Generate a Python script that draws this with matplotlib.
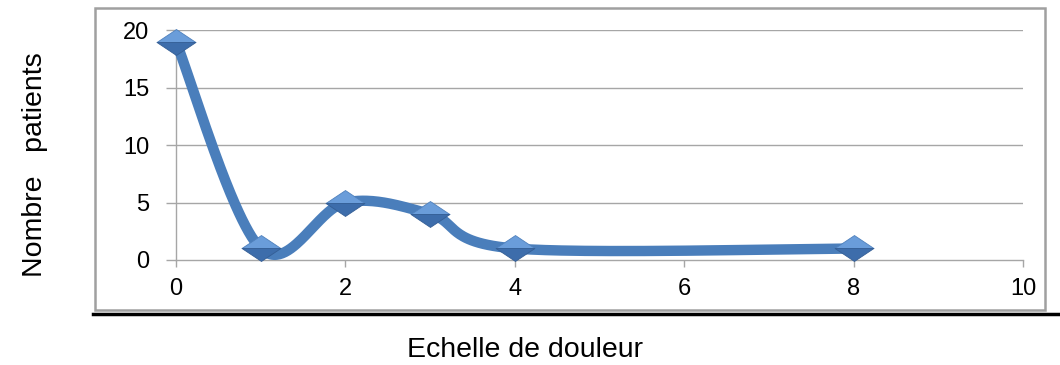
import numpy as np
import matplotlib.pyplot as plt
from matplotlib.patches import Rectangle
from matplotlib.lines import Line2D
from matplotlib.path import Path

# Echelle de douleur vs nombre de patients
douleur = [0, 1, 2, 3, 4, 8]
patients = [19, 1, 5, 4, 1, 1]
xticks = [0, 2, 4, 6, 8, 10]
yticks = [0, 5, 10, 15, 20]

bleu = '#4A7EBB'


def courbe_lisse(x, y, n=60):
    # spline de type Catmull-Rom (Bezier, tangente = (P[i+1]-P[i-1])/6)
    p = np.column_stack([x, y]).astype(float)
    ext = np.vstack([p[0], p, p[-1]])
    out = []
    t = np.linspace(0, 1, n)[:, None]
    for i in range(len(p) - 1):
        p0, p3 = p[i], p[i + 1]
        p1 = p0 + (ext[i + 2] - ext[i]) / 6
        p2 = p3 - (ext[i + 3] - ext[i + 1]) / 6
        seg = ((1 - t) ** 3) * p0 + 3 * ((1 - t) ** 2) * t * p1 \
            + 3 * (1 - t) * t ** 2 * p2 + t ** 3 * p3
        out.append(seg)
    c = np.vstack(out)
    return c[:, 0], c[:, 1]


fig = plt.figure(figsize=(10.6, 3.65), dpi=100)
ax = fig.add_axes([0.166, 0.2877, 0.7991, 0.630])

for v in yticks[1:]:
    ax.axhline(v, color='#A6A6A6', lw=1, zorder=1)

xs, ys = courbe_lisse(douleur, patients)
ax.plot(xs, ys, color=bleu, lw=7.5, solid_capstyle='round', zorder=3, clip_on=False)

# losanges en deux moities pour l'effet de relief
haut = Path([(-1.5, 0), (0, 1), (1.5, 0), (-1.5, 0)], closed=True)
bas = Path([(-1.5, 0), (0, -1), (1.5, 0), (-1.5, 0)], closed=True)
ax.plot(douleur, patients, ls='none', marker=haut, ms=28,
        mfc='#6A9DDA', mec='#4F81BD', mew=0.6, zorder=4, clip_on=False)
ax.plot(douleur, patients, ls='none', marker=bas, ms=28,
        mfc='#3D6DAB', mec='#345E95', mew=0.6, zorder=4, clip_on=False)

ax.set_xlim(0, 10)
ax.set_ylim(0, 20)
ax.set_xticks(xticks)
ax.set_yticks(yticks)
for s in ['top', 'right']:
    ax.spines[s].set_visible(False)
for s in ['left', 'bottom']:
    ax.spines[s].set_color('#A6A6A6')
    ax.spines[s].set_linewidth(1)
ax.tick_params(axis='y', direction='out', length=7, width=1, color='#A6A6A6',
               pad=12, labelsize=17)
ax.tick_params(axis='x', direction='out', length=5, width=1, color='#A6A6A6',
               pad=8, labelsize=17)
for lab in ax.get_xticklabels() + ax.get_yticklabels():
    lab.set_fontfamily('Liberation Sans')

# cadre du graphique et trait noir
fig.patches.append(Rectangle((0.0896, 0.1507), 0.896, 0.827, transform=fig.transFigure,
                             fill=False, ec='#A0A0A0', lw=1.8))
fig.lines.append(Line2D([0.0877, 1.0], [0.1397, 0.1397], transform=fig.transFigure,
                        color='black', lw=2.5))

fig.text(0.033, 0.548, 'Nombre   patients', rotation=90, ha='center', va='center',
         fontsize=20.5, family='Liberation Sans')
fig.text(0.495, 0.041, 'Echelle de douleur', ha='center', va='center',
         fontsize=20.5, family='Liberation Sans')

fig.savefig('out.png', dpi=100)
